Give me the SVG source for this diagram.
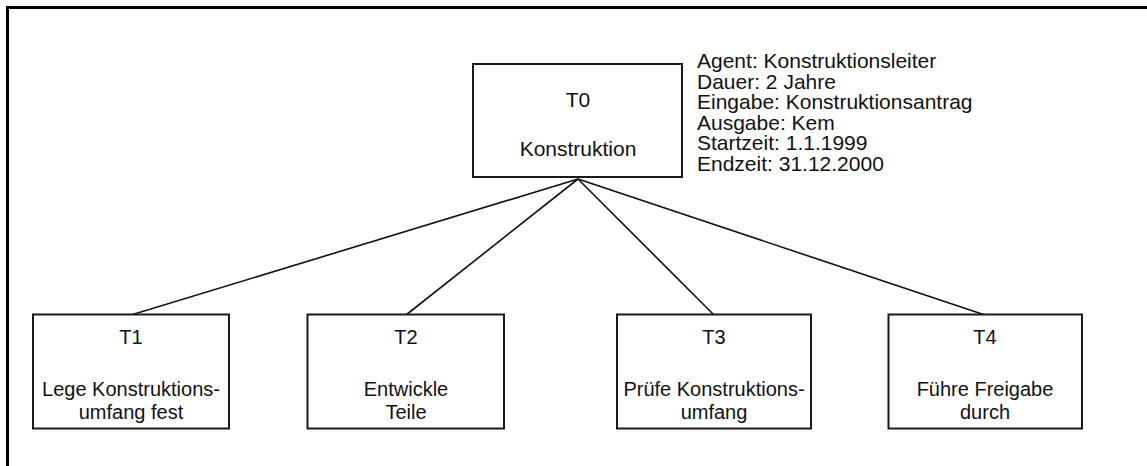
<svg xmlns="http://www.w3.org/2000/svg" width="1147" height="466" viewBox="0 0 1147 466">
<style>
.box{fill:#fff;stroke:#1a1a1a;stroke-width:2}
.t{font-family:"Liberation Sans",Arial,sans-serif;fill:#111;text-anchor:middle}
.b{font-size:20px}
.top{font-size:21px}
.info{font-family:"Liberation Sans",Arial,sans-serif;font-size:21px;fill:#111}
.c{stroke:#111;stroke-width:1.6;fill:none}
</style>
<rect width="1147" height="466" fill="#fff"/>
<path d="M7.5 466 V7.5 H1147" fill="none" stroke="#000" stroke-width="3"/>
<g id="connectors">
<line class="c" x1="578" y1="179" x2="131" y2="315"/>
<line class="c" x1="578" y1="179" x2="406" y2="315"/>
<line class="c" x1="578" y1="179" x2="714" y2="315"/>
<line class="c" x1="578" y1="179" x2="985" y2="315"/>
</g>
<g id="T0">
<rect class="box" x="473" y="64" width="209" height="113"/>
<text class="t top" x="578" y="107">T0</text>
<text class="t top" x="578" y="156">Konstruktion</text>
</g>
<g id="T0-info">
<text class="info" x="697" y="68">Agent: Konstruktionsleiter</text>
<text class="info" x="697" y="88.5">Dauer: 2 Jahre</text>
<text class="info" x="697" y="109">Eingabe: Konstruktionsantrag</text>
<text class="info" x="697" y="129.5">Ausgabe: Kem</text>
<text class="info" x="697" y="150">Startzeit: 1.1.1999</text>
<text class="info" x="697" y="170.5">Endzeit: 31.12.2000</text>
</g>
<g id="T1">
<rect class="box" x="33" y="314.5" width="196" height="114"/>
<text class="t b" x="131" y="343.5">T1</text>
<text class="t b" x="131" y="395.5">Lege Konstruktions-</text>
<text class="t b" x="131" y="419">umfang fest</text>
</g>
<g id="T2">
<rect class="box" x="307.5" y="314.5" width="196.5" height="114"/>
<text class="t b" x="406" y="343.5">T2</text>
<text class="t b" x="406" y="395.5">Entwickle</text>
<text class="t b" x="406" y="419">Teile</text>
</g>
<g id="T3">
<rect class="box" x="617" y="314.5" width="194" height="114"/>
<text class="t b" x="714" y="343.5">T3</text>
<text class="t b" x="714" y="395.5">Prüfe Konstruktions-</text>
<text class="t b" x="714" y="419">umfang</text>
</g>
<g id="T4">
<rect class="box" x="888.5" y="314.5" width="193.5" height="114"/>
<text class="t b" x="985" y="343.5">T4</text>
<text class="t b" x="985" y="395.5">Führe Freigabe</text>
<text class="t b" x="985" y="419">durch</text>
</g>
</svg>
